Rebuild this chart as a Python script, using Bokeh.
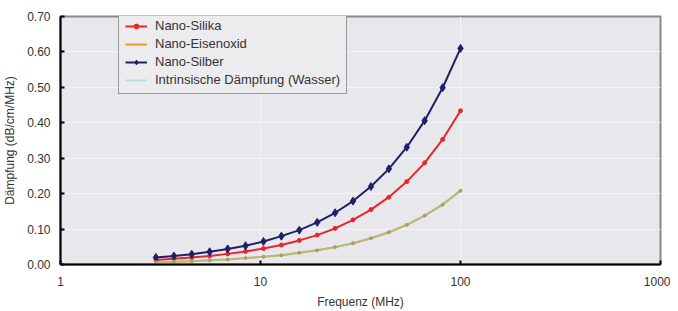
from bokeh.plotting import figure
from bokeh.embed import file_html
from bokeh.resources import INLINE
from bokeh.models import FixedTicker, NumeralTickFormatter, Range1d, Legend, LegendItem

freq = [3, 3.69, 4.53, 5.57, 6.85, 8.42, 10.35, 12.72, 15.63, 19.21, 23.61, 29.02,
        35.67, 43.84, 53.88, 66.2, 81.4, 100]
silika = [0.013, 0.016, 0.020, 0.024, 0.030, 0.037, 0.045, 0.055, 0.068, 0.083, 0.102,
          0.126, 0.155, 0.190, 0.234, 0.287, 0.353, 0.434]
eisenoxid = [0.006, 0.008, 0.009, 0.012, 0.014, 0.018, 0.022, 0.026, 0.033, 0.040, 0.049,
             0.060, 0.074, 0.091, 0.112, 0.138, 0.169, 0.208]
silber = [0.020, 0.024, 0.029, 0.036, 0.044, 0.053, 0.065, 0.080, 0.097, 0.119, 0.146,
          0.179, 0.220, 0.270, 0.331, 0.406, 0.499, 0.610]
wasser = [0.006, 0.008, 0.009, 0.012, 0.014, 0.018, 0.022, 0.026, 0.033, 0.040, 0.049,
          0.060, 0.074, 0.091, 0.112, 0.138, 0.169, 0.208]

x_ticks = [1, 10, 100, 1000]
y_ticks = [0.0, 0.1, 0.2, 0.3, 0.4, 0.5, 0.6, 0.7]

FONT = "Liberation Sans"

p = figure(width=670, height=311, x_axis_type="log", output_backend="svg",
           toolbar_location=None, x_range=Range1d(1, 1000), y_range=Range1d(0, 0.7),
           min_border_left=54, min_border_right=10, min_border_top=16, min_border_bottom=45)

p.background_fill_color = "#e8e8ec"
p.border_fill_color = "white"
p.outline_line_color = "#8a8a8a"
p.outline_line_width = 2

p.xgrid.grid_line_color = "#f4f4f6"
p.ygrid.grid_line_color = "#f4f4f6"
p.xgrid.minor_grid_line_color = "#f1f1f4"

r1l = p.line(freq, silika, line_color="#e8262a", line_width=2)
r1m = p.scatter(freq, silika, marker="circle", size=4, color="#e8262a")
r2l = p.line(freq, eisenoxid, line_color="#f7941d", line_width=2)
r3l = p.line(freq, silber, line_color="#20206a", line_width=2)
r3m = p.scatter(freq, silber, marker="diamond", size=8, color="#20206a")
r4l = p.line(freq, wasser, line_color="#80d8c8", line_width=2, line_alpha=0.55)
r4m = p.scatter(freq, wasser, marker="circle", size=3, color="#a8a060")

for ax in (p.xaxis[0], p.yaxis[0]):
    ax.axis_line_color = "black"
    ax.axis_line_width = 2
    ax.major_tick_in = 4
    ax.major_tick_out = 0
    ax.major_tick_line_color = "black"
    ax.major_tick_line_width = 2
    ax.minor_tick_line_color = None
    ax.major_label_text_font = FONT
    ax.major_label_text_font_size = "12px"
    ax.major_label_text_color = "#333333"
    ax.axis_label_text_font = FONT
    ax.axis_label_text_font_size = "12px"
    ax.axis_label_text_font_style = "normal"
    ax.axis_label_text_color = "#333333"

p.xaxis.ticker = FixedTicker(ticks=x_ticks)
p.xaxis.major_label_overrides = {1: "1", 10: "10", 100: "100", 1000: "1000"}
p.xaxis.major_label_standoff = 12
p.xaxis.axis_label = "Frequenz (MHz)"
p.xaxis.axis_label_standoff = 6
p.yaxis.ticker = FixedTicker(ticks=y_ticks)
p.yaxis.formatter = NumeralTickFormatter(format="0.00")
p.yaxis.major_label_standoff = 10
p.yaxis.axis_label = "Dämpfung (dB/cm/MHz)"
p.yaxis.axis_label_standoff = 7

legend = Legend(items=[
    LegendItem(label="Nano-Silika", renderers=[r1l, r1m]),
    LegendItem(label="Nano-Eisenoxid", renderers=[r2l]),
    LegendItem(label="Nano-Silber", renderers=[r3l, r3m]),
    LegendItem(label="Intrinsische Dämpfung (Wasser)", renderers=[r4l]),
], location=(58, 170))
legend.label_text_font = FONT
legend.label_text_font_size = "13px"
legend.label_text_color = "#333333"
legend.glyph_width = 22
legend.glyph_height = 12
legend.label_height = 14
legend.spacing = 3
legend.padding = 6
legend.label_standoff = 8
legend.background_fill_color = "#ececef"
legend.background_fill_alpha = 1
legend.border_line_color = "#444444"
legend.border_line_width = 1
p.add_layout(legend, "center")

open("out.html", "w").write(file_html(p, INLINE))
